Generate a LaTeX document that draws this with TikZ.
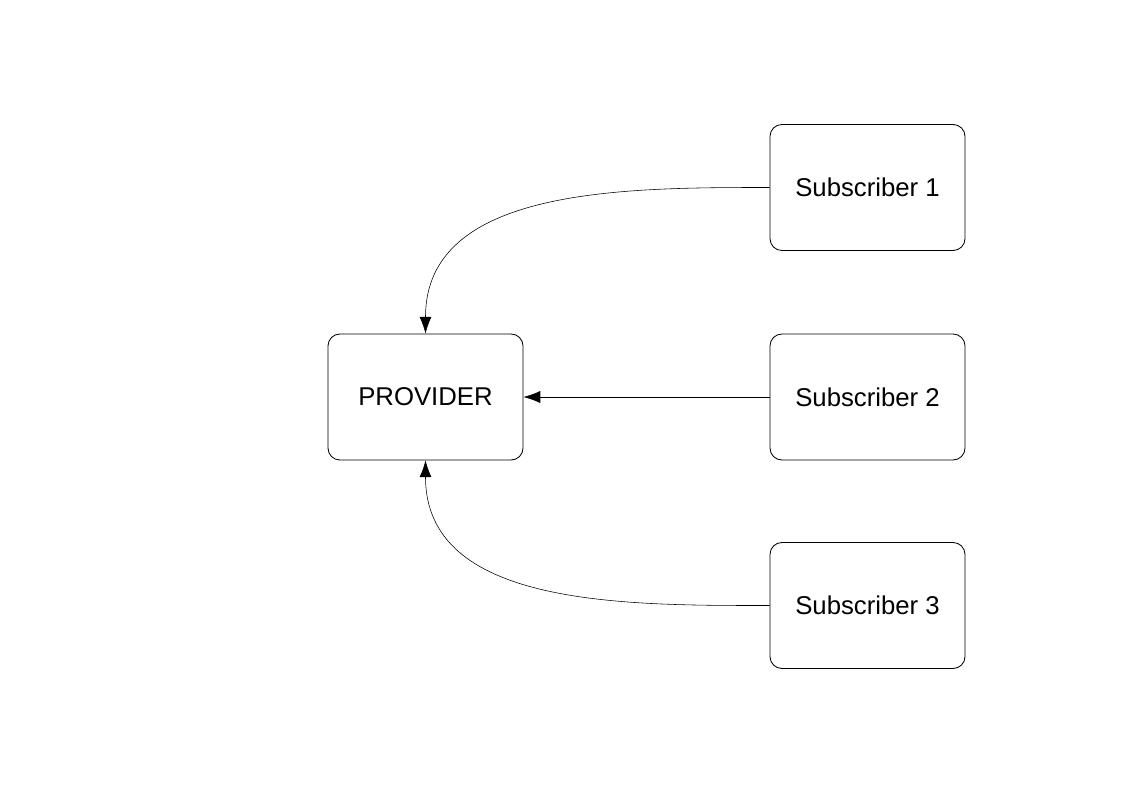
\documentclass[tikz,border=0pt]{standalone}
\usepackage{fontspec}
\setmainfont{Liberation Sans}
\usepackage{tikz}
\usetikzlibrary{calc,positioning,arrows.meta}

\begin{document}
\begin{tikzpicture}[x=0.025cm, y=-0.025cm]
    \tikzstyle{box}=[draw, line width=0.6pt, rounded corners=0.3cm, minimum width=4.875cm, minimum height=3.15cm, inner sep=0pt, font=\fontsize{18.3}{22}\selectfont];
    \tikzstyle{link}=[line width=0.4pt, -{Latex[length=0.42cm, width=0.3cm]}];

    \useasboundingbox (0,0) rectangle (1123,794);

    \node[box] (provider) at (425.5,397) {PROVIDER};

    \foreach \y / \i in {187.5/1, 397/2, 605.5/3} {
      \node[box] (sub\i) at (867.5,\y) {Subscriber \i};
    }

    \draw[link] (sub1.west) to[out=180, in=90] (provider.north);
    \draw[link] (sub2.west) -- (provider.east);
    \draw[link] (sub3.west) to[out=180, in=-90] (provider.south);
  \end{tikzpicture}
\end{document}
